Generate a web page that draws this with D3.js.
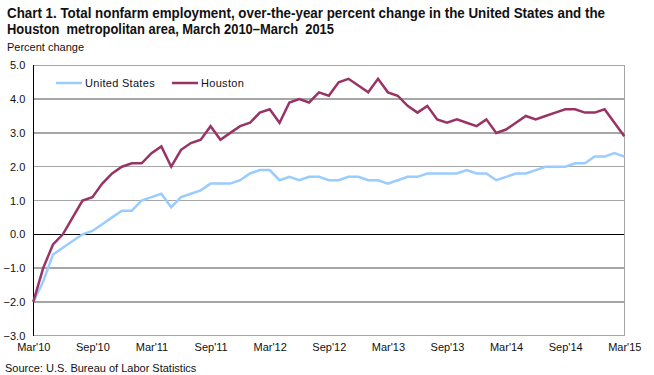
<!DOCTYPE html>
<html><head><meta charset="utf-8">
<script src="https://cdn.jsdelivr.net/npm/d3@7"></script>
<style>
body{margin:0;background:#fff;}
text{font-family:"Liberation Sans",Arial,sans-serif;fill:#111;}
</style></head><body>
<svg id="c" width="654" height="375"></svg>
<script>
// Months Mar 2010 .. Mar 2015 (61 points)
const monthIndex = d3.range(61);
const tickLabels = ["Mar'10","Sep'10","Mar'11","Sep'11","Mar'12","Sep'12","Mar'13","Sep'13","Mar'14","Sep'14","Mar'15"];
const yTicks = [-3,-2,-1,0,1,2,3,4,5];
const usValues = [-2.0,-1.4,-0.6,-0.4,-0.2,0.0,0.1,0.3,0.5,0.7,0.7,1.0,1.1,1.2,0.8,1.1,1.2,1.3,1.5,1.5,1.5,1.6,1.8,1.9,1.9,1.6,1.7,1.6,1.7,1.7,1.6,1.6,1.7,1.7,1.6,1.6,1.5,1.6,1.7,1.7,1.8,1.8,1.8,1.8,1.9,1.8,1.8,1.6,1.7,1.8,1.8,1.9,2.0,2.0,2.0,2.1,2.1,2.3,2.3,2.4,2.3];
const houstonValues = [-2.0,-1.0,-0.3,0.0,0.5,1.0,1.1,1.5,1.8,2.0,2.1,2.1,2.4,2.6,2.0,2.5,2.7,2.8,3.2,2.8,3.0,3.2,3.3,3.6,3.7,3.3,3.9,4.0,3.9,4.2,4.1,4.5,4.6,4.4,4.2,4.6,4.2,4.1,3.8,3.6,3.8,3.4,3.3,3.4,3.3,3.2,3.4,3.0,3.1,3.3,3.5,3.4,3.5,3.6,3.7,3.7,3.6,3.6,3.7,3.3,2.9];
const seriesNames = ["United States","Houston"];
const seriesColors = ["#99CCFF","#993366"];

const svg = d3.select("#c");
const x = d3.scaleLinear().domain([0,60]).range([33.3,624.3]);
const y = d3.scaleLinear().domain([-3,5]).range([335.7,65.3]);

// title
svg.append("text").attr("x",7).attr("y",18).attr("font-size",14).attr("font-weight","bold")
  .attr("textLength",598).attr("lengthAdjust","spacingAndGlyphs")
  .text("Chart 1. Total nonfarm employment, over-the-year percent change in the United States and the");
svg.append("text").attr("x",7).attr("y",34).attr("font-size",14).attr("font-weight","bold")
  .attr("textLength",327).attr("lengthAdjust","spacingAndGlyphs").attr("xml:space","preserve")
  .text("Houston  metropolitan area, March 2010\u2013March  2015");
svg.append("text").attr("x",7).attr("y",51).attr("font-size",11).text("Percent change");

// gridlines
svg.append("g").selectAll("line").data(yTicks).join("line")
  .attr("x1",x(0)).attr("x2",x(60)).attr("y1",d=>y(d)).attr("y2",d=>y(d))
  .attr("stroke",d=>d===0?"#000":"#a6a6a6").attr("stroke-width",1.3)
  .attr("shape-rendering","crispEdges");
// right border
svg.append("line").attr("x1",x(60)).attr("x2",x(60)).attr("y1",y(5)).attr("y2",y(-3))
  .attr("stroke","#a6a6a6").attr("stroke-width",1.3).attr("shape-rendering","crispEdges");
// left axis
svg.append("line").attr("x1",x(0)).attr("x2",x(0)).attr("y1",y(5)).attr("y2",y(-3))
  .attr("stroke","#000").attr("stroke-width",1.3).attr("shape-rendering","crispEdges");

// y axis labels
const yAxis = d3.axisLeft(y).tickValues(yTicks).tickFormat(d3.format(".1f")).tickSize(0).tickPadding(8);
const gy = svg.append("g").attr("transform",`translate(${x(0)},0)`).call(yAxis);
gy.select(".domain").remove();
gy.selectAll("text").attr("font-size",11).attr("font-family","Liberation Sans, Arial, sans-serif").attr("fill","#111");

// x axis labels
const xAxis = d3.axisBottom(x).tickValues(d3.range(0,61,6)).tickFormat((d,i)=>tickLabels[i]).tickSize(0).tickPadding(8);
const gx = svg.append("g").attr("transform",`translate(0,${y(-3)})`).call(xAxis);
gx.select(".domain").remove();
gx.selectAll("text").attr("font-size",11).attr("font-family","Liberation Sans, Arial, sans-serif").attr("fill","#111");

// lines
const line = d3.line().x((d,i)=>x(monthIndex[i])).y(d=>y(d));
[usValues,houstonValues].forEach((vals,k)=>{
  svg.append("path").datum(vals).attr("d",line).attr("fill","none")
    .attr("stroke",seriesColors[k]).attr("stroke-width",2.5).attr("stroke-linejoin","miter");
});

// legend
const legX = [56,172];
seriesNames.forEach((n,k)=>{
  svg.append("line").attr("x1",legX[k]).attr("x2",legX[k]+26).attr("y1",83).attr("y2",83)
    .attr("stroke",seriesColors[k]).attr("stroke-width",2.5);
  svg.append("text").attr("x",legX[k]+29).attr("y",87).attr("font-size",11).attr("fill","#444")
    .attr("letter-spacing",0.3).text(n);
});

// source
svg.append("text").attr("x",5).attr("y",372).attr("font-size",11).text("Source: U.S. Bureau of Labor Statistics");
</script>
</body></html>
